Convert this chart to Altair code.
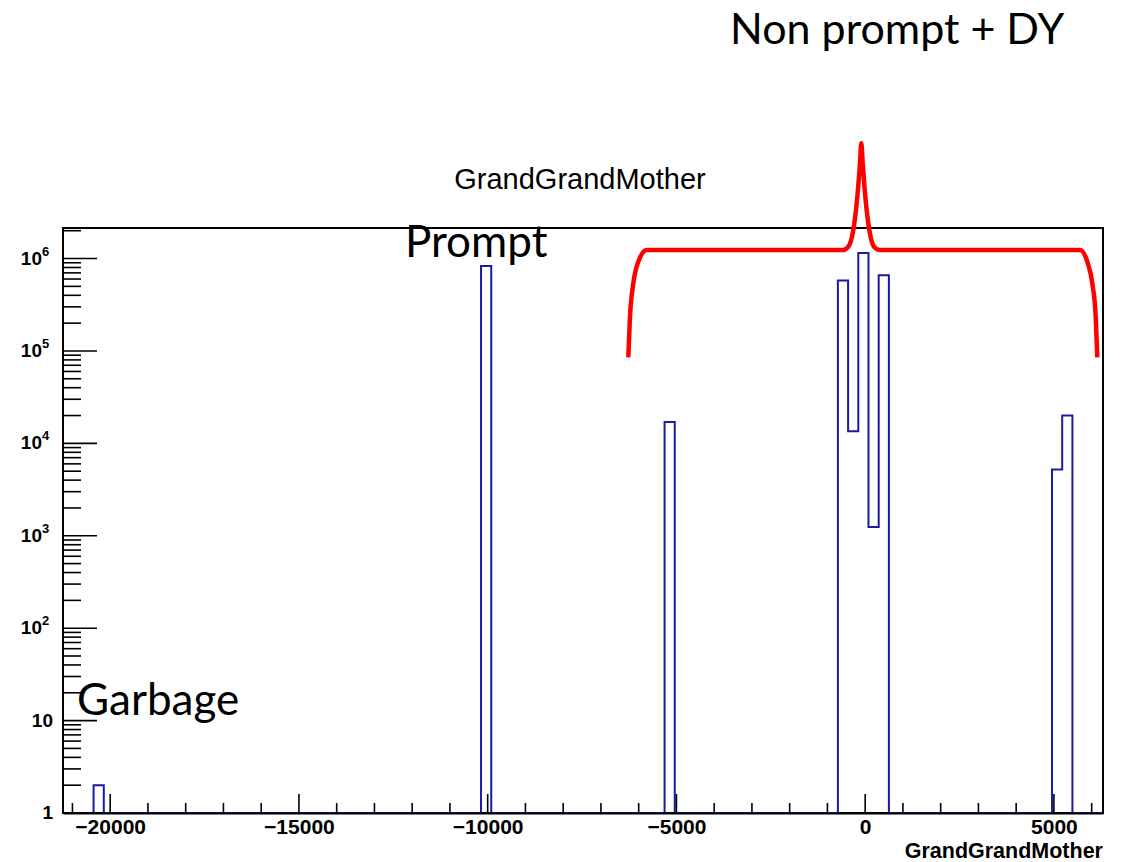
import altair as alt
import pandas as pd

# ---------------- data ----------------
# histogram: 102 equal bins from -21250 to 6300
X_MIN, X_MAX, N_BINS = -21250, 6300, 102
Y_MIN, Y_MAX = 1, 2.14e6

# non-empty bins: bin centres and entries
bin_centres = [-20305, -10041, -5179, -587, -317, -47, 223, 493, 5085, 5355]
bin_entries = [2, 830000, 17000, 580000, 13500, 1150000, 1245, 660000, 5200, 20000]

x_major_ticks = [-20000, -15000, -10000, -5000, 0, 5000]
x_minor_ticks = [v for v in range(-21000, 6001, 1000) if v % 5000 != 0]
y_major_ticks = [1, 10, 100, 1000, 10000, 100000, 1000000]
y_tick_base = ["1", "10", "10", "10", "10", "10", "10"]
y_tick_exponent = ["", "", "2", "3", "4", "5", "6"]
y_minor_ticks = [m * 10 ** k for k in range(7) for m in range(2, 10) if m * 10 ** k <= Y_MAX]

title_text = "GrandGrandMother"
x_title = "GrandGrandMother"
annotation_nonprompt = "Non prompt + DY"
annotation_prompt = "Prompt"
annotation_garbage = "Garbage"

# red curly brace annotation (in data units)
brace_x = [-6275, -6230, -6142, -6010, -5787, -595, -447, -314, -208, -137, -102,
           -65, 4, 110, 234, 393, 5691, 5884, 6017, 6107, 6149]
brace_y = [8.53e4, 2.35e5, 5.39e5, 9.25e5, 1.236e6, 1.236e6, 1.343e6, 2.04e6, 4.67e6,
           1.072e7, 1.766e7, 1.072e7, 4.67e6, 2.04e6, 1.343e6, 1.236e6, 1.236e6,
           9.25e5, 5.39e5, 2.35e5, 8.53e4]

# ---------------- build ----------------
W, H = 1040, 585
bw = (X_MAX - X_MIN) / N_BINS
counts = [Y_MIN] * N_BINS
for c, n in zip(bin_centres, bin_entries):
    counts[int((c - X_MIN) // bw)] = n
edges = [X_MIN + i * bw for i in range(N_BINS + 1)]
hist_df = pd.DataFrame({"x": edges, "y": counts + [counts[-1]]})

FONT = "Liberation Sans"
xscale = alt.Scale(domain=[X_MIN, X_MAX], nice=False, zero=False)
yscale = alt.Scale(type="log", domain=[Y_MIN, Y_MAX], nice=False)

hist = alt.Chart(hist_df).mark_line(
    interpolate="step-after", color="#1a1aa8", strokeWidth=2
).encode(
    x=alt.X("x:Q", scale=xscale, axis=alt.Axis(
        values=x_major_ticks, format="d", ticks=False, tickSize=0, grid=False,
        domain=True, domainColor="black", domainWidth=2,
        labelFont=FONT, labelFontSize=21, labelFontWeight="bold",
        labelColor="black", labelPadding=3,
        labelFlush=False, labelOverlap=False, title=None, zindex=1)),
    y=alt.Y("y:Q", scale=yscale, axis=None),
)

xmaj = alt.Chart(pd.DataFrame({"x": x_major_ticks})).mark_rule(
    color="black", strokeWidth=1.6).encode(
    x=alt.X("x:Q", scale=xscale), y=alt.value(H), y2=alt.value(H - 19))
xmin = alt.Chart(pd.DataFrame({"x": x_minor_ticks})).mark_rule(
    color="black", strokeWidth=1.6).encode(
    x=alt.X("x:Q", scale=xscale), y=alt.value(H), y2=alt.value(H - 10))
ymaj = alt.Chart(pd.DataFrame({"y": y_major_ticks})).mark_rule(
    color="black", strokeWidth=1.6).encode(
    y=alt.Y("y:Q", scale=yscale), x=alt.value(0), x2=alt.value(34))
ymin = alt.Chart(pd.DataFrame({"y": y_minor_ticks})).mark_rule(
    color="black", strokeWidth=1.6).encode(
    y=alt.Y("y:Q", scale=yscale), x=alt.value(0), x2=alt.value(18))

# y tick labels: "10" with a raised exponent, as in the original
ylab_df = pd.DataFrame({"y": y_major_ticks, "base": y_tick_base, "exp": y_tick_exponent})
ylab_plain = alt.Chart(ylab_df).transform_filter("datum.exp == ''").mark_text(
    font=FONT, fontSize=19, fontWeight="bold", align="right", baseline="middle",
    color="black", clip=False
).encode(y=alt.Y("y:Q", scale=yscale), x=alt.value(-10), text="base:N")
ylab_base = alt.Chart(ylab_df).transform_filter("datum.exp != ''").mark_text(
    font=FONT, fontSize=19, fontWeight="bold", align="right", baseline="middle",
    color="black", clip=False
).encode(y=alt.Y("y:Q", scale=yscale), x=alt.value(-21), text="base:N")
ylab_exp = alt.Chart(ylab_df).transform_filter("datum.exp != ''").mark_text(
    font=FONT, fontSize=13, fontWeight="bold", align="left", baseline="middle",
    dy=-7, color="black", clip=False
).encode(y=alt.Y("y:Q", scale=yscale), x=alt.value(-21), text="exp:N")

brace = alt.Chart(pd.DataFrame({"x": brace_x, "y": brace_y, "i": range(len(brace_x))})).mark_line(
    color="#ff0000", strokeWidth=4.5, interpolate="monotone", clip=False
).encode(x=alt.X("x:Q", scale=xscale), y=alt.Y("y:Q", scale=yscale), order="i:Q")


def label(text, x, y, font, size, align="left", weight="normal"):
    return alt.Chart(pd.DataFrame({"t": [text]})).mark_text(
        font=font, fontSize=size, align=align, baseline="alphabetic", color="black",
        fontWeight=weight
    ).encode(text="t:N", x=alt.value(x), y=alt.value(y))


title = label(title_text, 517, -39, FONT, 29, align="center")
xt = label(x_title, W, 630, FONT, 21.5, align="right", weight="bold")
t1 = label(annotation_nonprompt, 667, -184, "Lato", 43)
t2 = label(annotation_prompt, 342, 29, "Lato", 44)
t3 = label(annotation_garbage, 14, 487, "Lato", 44)

chart = alt.layer(hist, xmin, xmaj, ymin, ymaj, ylab_plain, ylab_base, ylab_exp,
                  brace, title, xt, t1, t2, t3).properties(
    width=W, height=H,
    autosize=alt.AutoSizeParams(type="none"),
    padding={"left": 55, "top": 220, "right": 14, "bottom": 54},
).configure_view(stroke="black", strokeWidth=2)

chart.save("out.html", embed_options={"renderer": "svg", "actions": False})
